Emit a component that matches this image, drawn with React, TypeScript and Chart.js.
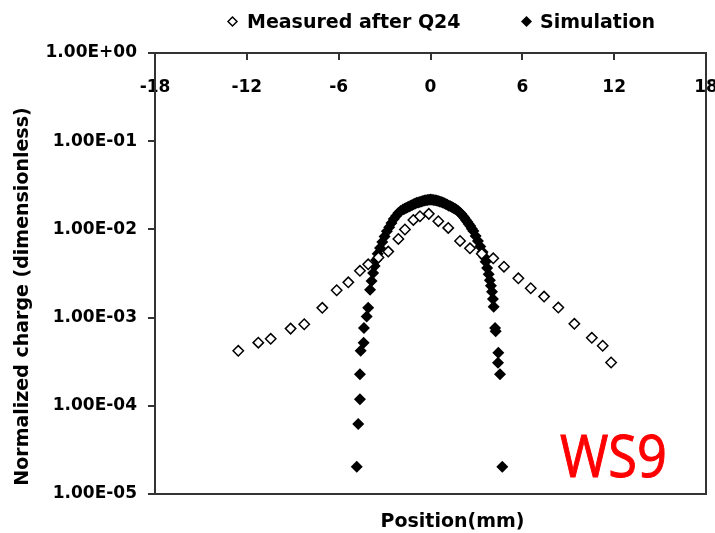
import React, { useEffect, useRef } from "react";
import { Chart, registerables } from "chart.js";

Chart.register(...registerables);

const xTicks = [-18, -12, -6, 0, 6, 12, 18];
const yTicks = [1e-5, 1e-4, 1e-3, 1e-2, 1e-1, 1];

const legendLabels = ["Measured after Q24", "Simulation"];
const xTitle = "Position(mm)";
const yTitle = "Normalized charge (dimensionless)";
const stampText = "WS9";

const measuredX = [-12.56, -11.25, -10.44, -9.14, -8.25, -7.07, -6.13, -5.37, -4.61, -4.07, -3.4, -2.76, -2.1, -1.67, -1.12, -0.69, -0.11, 0.51, 1.16, 1.93, 2.58, 3.35, 4.1, 4.8, 5.74, 6.55, 7.42, 8.35, 9.4, 10.54, 11.25, 11.8];
const measuredY = [4.2e-4, 5.2e-4, 5.75e-4, 7.5e-4, 8.4e-4, 1.29e-3, 2.04e-3, 2.51e-3, 3.39e-3, 4.02e-3, 4.8e-3, 5.6e-3, 7.8e-3, 9.98e-3, 1.28e-2, 1.41e-2, 1.5e-2, 1.24e-2, 1.04e-2, 7.4e-3, 6.1e-3, 5.3e-3, 4.7e-3, 3.78e-3, 2.79e-3, 2.15e-3, 1.73e-3, 1.3e-3, 8.5e-4, 5.9e-4, 4.8e-4, 3.1e-4];

const simX = [-4.82, -4.72, -4.61, -4.61, -4.56, -4.37, -4.35, -4.17, -4.07, -3.95, -3.85, -3.75, -3.65, -3.55, -3.45, -3.3, -3.15, -3.0, -2.85, -2.7, -2.55, -2.4, -2.25, -2.1, -1.95, -1.8, -1.7, -1.6, -1.5, -1.4, -1.3, -1.2, -1.1, -1.0, -0.9, -0.8, -0.7, -0.6, -0.5, -0.4, -0.3, -0.2, -0.1, 0, 0.1, 0.2, 0.3, 0.4, 0.5, 0.6, 0.7, 0.8, 0.9, 1.0, 1.1, 1.2, 1.3, 1.4, 1.5, 1.6, 1.7, 1.8, 1.9, 2.0, 2.1, 2.2, 2.3, 2.4, 2.5, 2.6, 2.7, 2.8, 2.95, 3.1, 3.25, 3.4, 3.5, 3.6, 3.7, 3.8, 3.88, 3.95, 4.02, 4.08, 4.13, 4.22, 4.26, 4.43, 4.41, 4.54, 4.69];
const simY = [2.04e-5, 6.2e-5, 1.19e-4, 2.28e-4, 4.2e-4, 5.2e-4, 7.6e-4, 1.03e-3, 1.29e-3, 2.07e-3, 2.6e-3, 3.2e-3, 3.85e-3, 4.5e-3, 5.3e-3, 6.15e-3, 7.2e-3, 8.3e-3, 9.5e-3, 1.06e-2, 1.18e-2, 1.31e-2, 1.42e-2, 1.53e-2, 1.62e-2, 1.68e-2, 1.72e-2, 1.75e-2, 1.78e-2, 1.82e-2, 1.86e-2, 1.89e-2, 1.93e-2, 1.97e-2, 2.0e-2, 2.02e-2, 2.05e-2, 2.07e-2, 2.1e-2, 2.13e-2, 2.14e-2, 2.15e-2, 2.17e-2, 2.18e-2, 2.17e-2, 2.15e-2, 2.14e-2, 2.13e-2, 2.1e-2, 2.07e-2, 2.05e-2, 2.02e-2, 1.98e-2, 1.94e-2, 1.9e-2, 1.86e-2, 1.83e-2, 1.79e-2, 1.75e-2, 1.71e-2, 1.67e-2, 1.62e-2, 1.56e-2, 1.5e-2, 1.43e-2, 1.36e-2, 1.29e-2, 1.22e-2, 1.15e-2, 1.09e-2, 1.02e-2, 9.6e-3, 8.4e-3, 7.4e-3, 6.4e-3, 5.55e-3, 4.9e-3, 4.3e-3, 3.65e-3, 3.1e-3, 2.65e-3, 2.3e-3, 1.96e-3, 1.63e-3, 1.33e-3, 7.6e-4, 7.0e-4, 4.0e-4, 3.08e-4, 2.28e-4, 2.04e-5];

const FONT = '"DejaVu Sans"';
const AXIS_COLOR = "#333333";

function formatSci(v: number): string {
  const e = Math.round(Math.log10(v));
  const m = v / Math.pow(10, e);
  const sign = e < 0 ? "-" : "+";
  return m.toFixed(2) + "E" + sign + String(Math.abs(e)).padStart(2, "0");
}

function diamond(ctx: CanvasRenderingContext2D, x: number, y: number, r: number) {
  ctx.beginPath();
  ctx.moveTo(x - r, y);
  ctx.lineTo(x, y - r);
  ctx.lineTo(x + r, y);
  ctx.lineTo(x, y + r);
  ctx.closePath();
}

const decorPlugin = {
  id: "decor",
  afterDraw(chart: any) {
    const { ctx, chartArea: a, scales } = chart;
    const xs = scales.x;
    ctx.save();
    // x tick labels (inside, below top axis)
    ctx.fillStyle = "#000";
    ctx.font = `bold 17px ${FONT}`;
    ctx.textAlign = "center";
    ctx.textBaseline = "alphabetic";
    xTicks.forEach((v) => {
      ctx.fillText(String(v), xs.getPixelForValue(v), a.top + 38.5);
    });
    // frame
    ctx.strokeStyle = AXIS_COLOR;
    ctx.lineWidth = 2;
    ctx.strokeRect(a.left, a.top, a.right - a.left, a.bottom - a.top);
    // x tick marks
    xTicks.forEach((v) => {
      const px = Math.round(xs.getPixelForValue(v));
      ctx.beginPath();
      ctx.moveTo(px, a.top);
      ctx.lineTo(px, a.top + 7);
      ctx.stroke();
    });
    // x title
    ctx.fillStyle = "#000";
    ctx.font = `bold 19px ${FONT}`;
    ctx.textAlign = "center";
    ctx.fillText(xTitle, (a.left + a.right) / 2 + 22, 527);
    // y title
    ctx.save();
    ctx.translate(28, 296.5);
    ctx.rotate(-Math.PI / 2);
    ctx.fillText(yTitle, 0, 0);
    ctx.restore();
    // legend
    ctx.font = `bold 19px ${FONT}`;
    ctx.textAlign = "left";
    ctx.lineWidth = 1.5;
    ctx.strokeStyle = "#000";
    ctx.fillStyle = "#fff";
    diamond(ctx, 232.5, 21.5, 4.5);
    ctx.fill();
    ctx.stroke();
    ctx.fillStyle = "#000";
    ctx.fillText(legendLabels[0], 247, 28);
    diamond(ctx, 526.5, 21.5, 5.5);
    ctx.fill();
    ctx.fillText(legendLabels[1], 540, 28);
    // stamp
    ctx.font = `58px "Open Sans"`;
    const w = ctx.measureText(stampText).width;
    ctx.save();
    ctx.translate(560, 477);
    ctx.scale(107 / w, 1);
    ctx.fillStyle = "#ff0000";
    ctx.strokeStyle = "#ff0000";
    ctx.lineWidth = 1;
    ctx.fillText(stampText, 0, 0);
    ctx.strokeText(stampText, 0, 0);
    ctx.restore();
    ctx.restore();
  },
};

export default function App() {
  const ref = useRef<HTMLCanvasElement | null>(null);
  useEffect(() => {
    if (!ref.current) return;
    Chart.defaults.font.family = FONT;
    const chart = new Chart(ref.current, {
      type: "scatter",
      data: {
        datasets: [
          {
            label: legendLabels[0],
            data: measuredX.map((x, i) => ({ x, y: measuredY[i] })),
            pointStyle: "rectRot",
            pointRadius: 5.2,
            pointBorderWidth: 1.5,
            borderColor: "#000",
            backgroundColor: "#fff",
            pointBackgroundColor: "#fff",
            pointBorderColor: "#000",
          },
          {
            label: legendLabels[1],
            data: simX.map((x, i) => ({ x, y: simY[i] })),
            pointStyle: "rectRot",
            pointRadius: 6,
            pointBorderWidth: 0,
            borderColor: "#000",
            backgroundColor: "#000",
            pointBackgroundColor: "#000",
          },
        ],
      },
      options: {
        animation: false,
        responsive: false,
        devicePixelRatio: 1,
        events: [],
        layout: { padding: { left: 0, right: 9, top: 53, bottom: 39 } },
        plugins: {
          legend: { display: false },
          tooltip: { enabled: false },
          title: { display: false },
        },
        scales: {
          x: {
            type: "linear",
            min: -18,
            max: 18,
            display: false,
          },
          y: {
            type: "logarithmic",
            min: 1e-5,
            max: 1,
            position: "left",
            afterBuildTicks: (scale: any) => {
              scale.ticks = yTicks.map((v) => ({ value: v, major: true }));
            },
            afterFit: (scale: any) => {
              scale.width = 155;
            },
            ticks: {
              color: "#000",
              font: { family: FONT, size: 17, weight: "bold" },
              padding: 11,
              callback: (v: any) => formatSci(Number(v)),
              autoSkip: false,
            },
            grid: {
              display: true,
              drawOnChartArea: false,
              drawTicks: true,
              tickLength: 7,
              color: AXIS_COLOR,
              lineWidth: 2,
            },
            border: { display: true, color: AXIS_COLOR, width: 2 },
          },
        },
      },
      plugins: [decorPlugin],
    } as any);
    return () => chart.destroy();
  }, []);
  return (
    <div style={{ position: "absolute", left: 0, top: 0, width: 715, height: 533, background: "#fff" }}>
      <canvas ref={ref} width={715} height={533} style={{ display: "block" }} />
    </div>
  );
}
